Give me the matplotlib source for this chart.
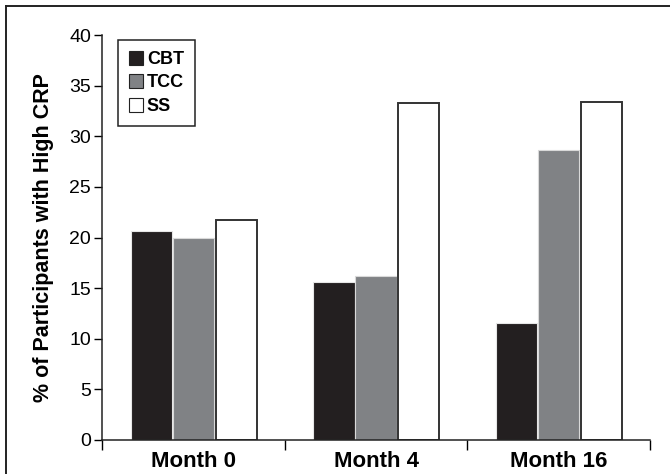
import matplotlib.pyplot as plt
from matplotlib.lines import Line2D
import numpy as np

months = ['Month 0', 'Month 4', 'Month 16']
groups = ['CBT', 'TCC', 'SS']
cbt = [20.6, 15.6, 11.6]
tcc = [20.0, 16.2, 28.6]
ss = [21.7, 33.3, 33.35]
yticks = [0, 5, 10, 15, 20, 25, 30, 35, 40]

plt.rcParams['font.family'] = ['Liberation Sans Narrow', 'Liberation Sans', 'DejaVu Sans']

fig = plt.figure(figsize=(6.7, 4.74), dpi=100)
ax = fig.add_axes([102/670, 1-440/474, 548/670, 405/474])

x = np.arange(len(months)) + 0.5
w = 0.225
ax.bar(x - w - 0.005, cbt, w, color='#231f20', edgecolor='#e6e6e6', linewidth=0.8, label=groups[0])
ax.bar(x, tcc, w, color='#808285', edgecolor='#d9d9d9', linewidth=0.8, label=groups[1])
ax.bar(x + w + 0.01, ss, w, color='white', edgecolor='#333333', linewidth=1.4, label=groups[2])

ax.set_xlim(0, 3)
ax.set_ylim(0, 40)
ax.set_yticks(yticks)
ax.tick_params(axis='y', labelsize=14, length=6, width=1, direction='out', pad=2)
ax.set_xticks(x)
ax.set_xticklabels(months, fontsize=16, fontweight='bold')
ax.tick_params(axis='x', length=0, pad=8)
ax.set_xticks([0, 1, 2, 3], minor=True)
ax.tick_params(axis='x', which='minor', length=7, width=1, direction='out')
for s in ['top', 'right']:
    ax.spines[s].set_visible(False)
for s in ['left', 'bottom']:
    ax.spines[s].set_linewidth(1.1)
    ax.spines[s].set_color('#222222')

ax.set_ylabel('% of Participants with High CRP', fontsize=15.5, fontweight='bold', labelpad=11)

leg = ax.legend(loc='upper left', bbox_to_anchor=(0.029, 0.988), borderaxespad=0,
                fancybox=False, edgecolor='#222222', framealpha=1,
                handlelength=0.8, handleheight=0.8, handletextpad=0.2,
                labelspacing=0.35, borderpad=0.6,
                prop={'size': 13, 'weight': 'bold'})
leg.get_frame().set_linewidth(1.1)
for h in leg.legend_handles:
    h.set_edgecolor('#222222')
    h.set_linewidth(0.8)

# outer frame (top and left edges)
fig.add_artist(Line2D([6/670, 6/670], [0, 1-6/474], color='#222222', lw=1.4))
fig.add_artist(Line2D([6/670, 1], [1-6/474, 1-6/474], color='#222222', lw=1.4))

fig.savefig('out.png', dpi=100)
